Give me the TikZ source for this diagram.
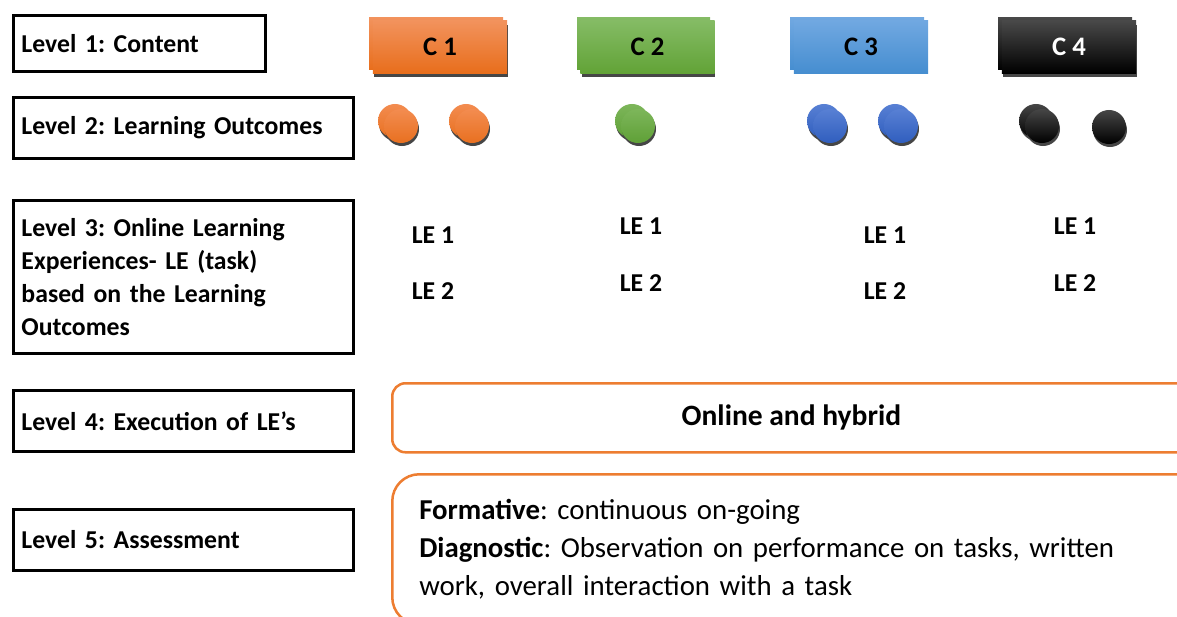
\documentclass[tikz,border=0pt]{standalone}
\usepackage{fontspec}
\setmainfont{Carlito}
\frenchspacing

\definecolor{framered}{RGB}{237,125,49}
\definecolor{shadowgray}{RGB}{70,70,70}
\definecolor{orangetop}{RGB}{242,146,92}
\definecolor{orangebot}{RGB}{232,110,28}
\definecolor{greentop}{RGB}{132,187,100}
\definecolor{greenbot}{RGB}{98,163,55}
\definecolor{bluetop}{RGB}{112,168,225}
\definecolor{bluebot}{RGB}{70,142,208}
\definecolor{blacktop}{RGB}{72,72,72}
\definecolor{odottop}{RGB}{243,140,80}
\definecolor{odotbot}{RGB}{232,112,32}
\definecolor{gdottop}{RGB}{125,182,90}
\definecolor{gdotbot}{RGB}{95,160,55}
\definecolor{bdottop}{RGB}{88,128,212}
\definecolor{bdotbot}{RGB}{48,94,190}
\definecolor{kdottop}{RGB}{70,70,70}

\tikzset{
  levelbox/.style={draw, line width=2.1pt, anchor=north west, align=left,
    inner xsep=0.2cm, inner ysep=0pt, font=\fontsize{18.3}{23.3}\selectfont\bfseries},
  cbox/.style={minimum width=3.35cm, minimum height=1.3cm, inner sep=0pt,
    font=\fontsize{19}{22}\selectfont\bfseries},
  lodot/.style={circle, minimum size=0.85cm, inner sep=0pt},
  lelabel/.style={font=\fontsize{18.3}{20}\selectfont\bfseries},
  orangebox/.style={draw=framered, line width=1.8pt, anchor=north west}
}

\begin{document}
\begin{tikzpicture}[x=0.025cm, y=-0.025cm]
\clip (0,0) rectangle (1177,617);

% levels
\node (L1) [levelbox, text width=5.9cm, minimum height=1.4cm] at (12,14) {Level 1: Content};
\node (L2) [levelbox, text width=8.1cm, minimum height=1.525cm] at (12,96) {Level 2: Learning Outcomes};
\node (L3) [levelbox, text width=8.1cm, minimum height=3.825cm] at (12,199) {Level 3: Online Learning\\Experiences- LE (task)\\based on the Learning\\Outcomes};
\node (L4) [levelbox, text width=8.1cm, minimum height=1.525cm] at (12,389) {Level 4: Execution of LE’s};
\node (L5) [levelbox, text width=8.1cm, minimum height=1.525cm] at (12,508) {Level 5: Assessment};

% content boxes
\fill[shadowgray] (374,25) rectangle (508,77);
\shade[top color=orangetop, bottom color=orangebot] (369,18) rectangle (503,70);
\node (C1) [cbox, top color=orangetop, bottom color=orangebot] at (440,47) {C 1};
\fill[shadowgray] (582,25) rectangle (715,77);
\shade[top color=greentop, bottom color=greenbot] (577,18) rectangle (710,70);
\node (C2) [cbox, top color=greentop, bottom color=greenbot] at (647.5,47) {C 2};
\shade[top color=bluetop, bottom color=bluebot] (790,18) rectangle (924,70);
\node (C3) [cbox, top color=bluetop, bottom color=bluebot] at (861,47) {C 3};
\fill[shadowgray] (1003,25) rectangle (1137,77);
\shade[top color=blacktop, bottom color=black] (998,18) rectangle (1132,70);
\node (C4) [cbox, top color=blacktop, bottom color=black, text=white] at (1069,47) {C 4};

% learning outcomes
\fill[shadowgray] (396,124) circle[radius=0.425cm];
\shade[top color=odottop, bottom color=odotbot] (395,121) circle[radius=0.425cm];
\fill[shadowgray] (402,129) circle[radius=0.425cm];
\node (O1) [lodot, top color=odottop, bottom color=odotbot] at (401,126) {};
\fill[shadowgray] (467,124) circle[radius=0.425cm];
\shade[top color=odottop, bottom color=odotbot] (466,121) circle[radius=0.425cm];
\fill[shadowgray] (473,129) circle[radius=0.425cm];
\node (O2) [lodot, top color=odottop, bottom color=odotbot] at (472,126) {};
\fill[shadowgray] (633,124) circle[radius=0.425cm];
\shade[top color=gdottop, bottom color=gdotbot] (632,121) circle[radius=0.425cm];
\fill[shadowgray] (639,129) circle[radius=0.425cm];
\node (G1) [lodot, top color=gdottop, bottom color=gdotbot] at (638,126) {};
\fill[shadowgray] (825,124) circle[radius=0.425cm];
\shade[top color=bdottop, bottom color=bdotbot] (824,121) circle[radius=0.425cm];
\fill[shadowgray] (831,129) circle[radius=0.425cm];
\node (B1) [lodot, top color=bdottop, bottom color=bdotbot] at (830,126) {};
\fill[shadowgray] (896,124) circle[radius=0.425cm];
\shade[top color=bdottop, bottom color=bdotbot] (895,121) circle[radius=0.425cm];
\fill[shadowgray] (902,129) circle[radius=0.425cm];
\node (B2) [lodot, top color=bdottop, bottom color=bdotbot] at (901,126) {};
\fill[shadowgray] (1037,124) circle[radius=0.425cm];
\shade[top color=kdottop, bottom color=black] (1036,121) circle[radius=0.425cm];
\fill[shadowgray] (1043,129) circle[radius=0.425cm];
\node (K1) [lodot, top color=kdottop, bottom color=black] at (1042,126) {};
\fill[shadowgray] (1110,130) circle[radius=0.425cm];
\node (K2) [lodot, top color=kdottop, bottom color=black] at (1109,127) {};

% learning experiences
\node (LE11) [lelabel] at (433,235) {LE 1};
\node (LE12) [lelabel] at (433,291) {LE 2};
\node (LE21) [lelabel] at (641,226) {LE 1};
\node (LE22) [lelabel] at (641,283) {LE 2};
\node (LE31) [lelabel] at (885,235) {LE 1};
\node (LE32) [lelabel] at (885,291) {LE 2};
\node (LE41) [lelabel] at (1075,226) {LE 1};
\node (LE42) [lelabel] at (1075,283) {LE 2};

% execution and assessment
\node (exec) [orangebox, rounded corners=0.33cm, minimum width=19.95cm, minimum height=1.725cm,
  font=\fontsize{21}{24}\selectfont\bfseries] at (391,382) {Online and hybrid};
\node (assess) [orangebox, rounded corners=0.675cm, align=left, text width=19cm, inner xsep=0.675cm,
  minimum height=3.75cm, font=\fontsize{20.5}{27}\selectfont] at (391,473)
  {\textbf{Formative}: continuous on-going\\
   \textbf{Diagnostic}: Observation on performance on tasks, written\\
   work, overall interaction with a task};
\end{tikzpicture}
\end{document}
